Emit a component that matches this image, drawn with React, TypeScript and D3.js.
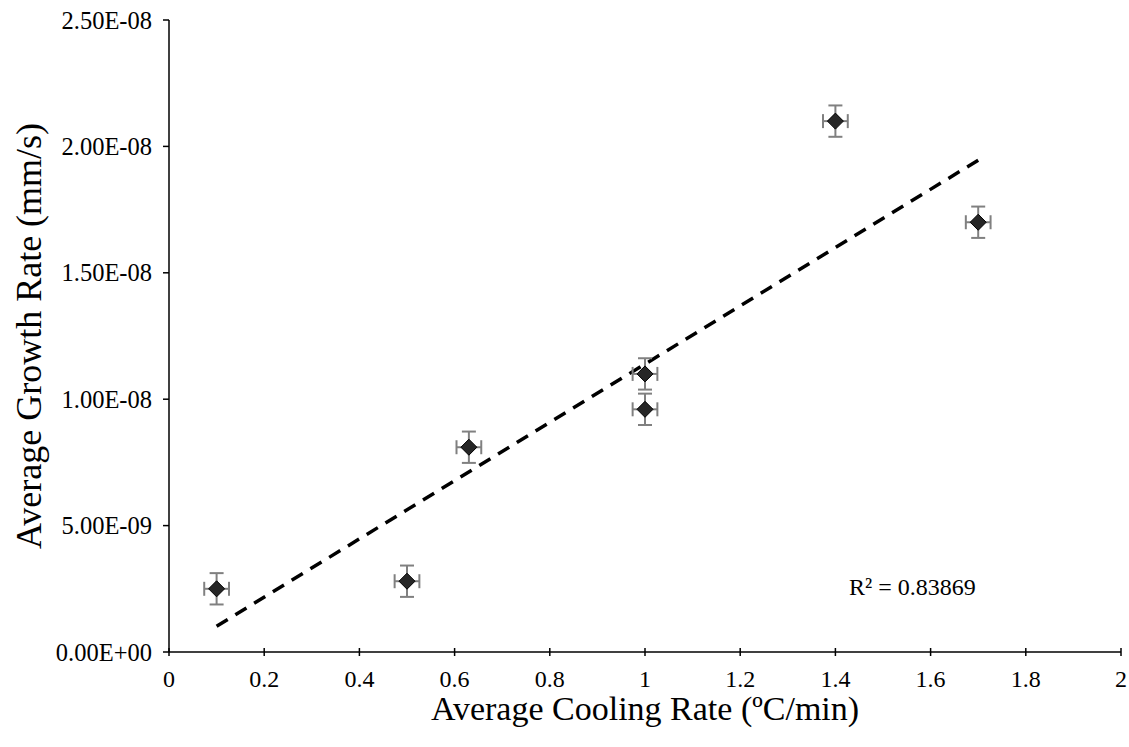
import React from "react";
import * as d3 from "d3";

const coolingRate = [0.1, 0.5, 0.63, 1.0, 1.0, 1.4, 1.7];
const growthRate = [2.5e-9, 2.8e-9, 8.1e-9, 1.1e-8, 9.6e-9, 2.1e-8, 1.7e-8];
const xErr = 0.026;
const yErr = 6.2e-10;
const xTicks = [0, 0.2, 0.4, 0.6, 0.8, 1, 1.2, 1.4, 1.6, 1.8, 2];
const yTicks = [0, 5e-9, 1e-8, 1.5e-8, 2e-8, 2.5e-8];
const yTickLabels = ["0.00E+00", "5.00E-09", "1.00E-08", "1.50E-08", "2.00E-08", "2.50E-08"];
const r2Label = "R² = 0.83869";

const W = 1129, H = 747;
const left = 169, right = 1121, top = 20, bottom = 652;
const font = "'Liberation Serif', 'Times New Roman', serif";

export default function App() {
  const x = d3.scaleLinear().domain([0, 2]).range([left, right]);
  const y = d3.scaleLinear().domain([0, 2.5e-8]).range([bottom, top]);

  const mx = d3.mean(coolingRate)!;
  const my = d3.mean(growthRate)!;
  let sxy = 0, sxx = 0;
  coolingRate.forEach((xv, i) => {
    sxy += (xv - mx) * (growthRate[i] - my);
    sxx += (xv - mx) ** 2;
  });
  const slope = sxy / sxx;
  const intercept = my - slope * mx;
  const x0 = d3.min(coolingRate)!, x1 = d3.max(coolingRate)!;
  const trend = d3.line<number>().x((v) => x(v)).y((v) => y(intercept + slope * v))([x0, x1]);

  const ds = 8;
  const ebColor = "#808080";
  const cap = 7;

  return (
    <svg width={W} height={H} style={{ position: "absolute", left: 0, top: 0, background: "#fff" }}>
      <line x1={left} x2={right} y1={bottom} y2={bottom} stroke="#000" strokeWidth={1.5} />
      <line x1={left} x2={left} y1={top} y2={bottom} stroke="#000" strokeWidth={1.5} />
      {xTicks.map((t) => (
        <g key={"xt" + t}>
          <line x1={x(t)} x2={x(t)} y1={bottom - 4} y2={bottom + 4} stroke="#000" strokeWidth={1.5} />
          <text x={x(t)} y={bottom + 35} textAnchor="middle" fontFamily={font} fontSize={24}>
            {String(t)}
          </text>
        </g>
      ))}
      {yTicks.map((t, i) => (
        <g key={"yt" + t}>
          <line x1={left - 6} x2={left} y1={y(t)} y2={y(t)} stroke="#000" strokeWidth={1.5} />
          <text x={left - 17} y={y(t)} dy="0.35em" textAnchor="end" fontFamily={font} fontSize={24.5}>
            {yTickLabels[i]}
          </text>
        </g>
      ))}
      <path d={trend || ""} fill="none" stroke="#000" strokeWidth={3.5} strokeDasharray="13 9" />
      {coolingRate.map((xv, i) => {
        const cx = x(xv), cy = y(growthRate[i]);
        const xl = x(xv - xErr), xr = x(xv + xErr);
        const yt = y(growthRate[i] + yErr), yb = y(growthRate[i] - yErr);
        return (
          <g key={"p" + i}>
            <g stroke={ebColor} strokeWidth={2}>
              <line x1={cx} x2={cx} y1={yt} y2={yb} />
              <line x1={cx - cap} x2={cx + cap} y1={yt} y2={yt} />
              <line x1={cx - cap} x2={cx + cap} y1={yb} y2={yb} />
              <line x1={xl} x2={xr} y1={cy} y2={cy} />
              <line x1={xl} x2={xl} y1={cy - cap} y2={cy + cap} />
              <line x1={xr} x2={xr} y1={cy - cap} y2={cy + cap} />
            </g>
            <path
              d={`M${cx},${cy - ds}L${cx + ds},${cy}L${cx},${cy + ds}L${cx - ds},${cy}Z`}
              fill="#262626"
              stroke="#000"
              strokeWidth={1}
            />
          </g>
        );
      })}
      <text x={849} y={595} fontFamily={font} fontSize={24}>{r2Label}</text>
      <text x={645} y={720} textAnchor="middle" fontFamily={font} fontSize={34}>
        Average Cooling Rate (ºC/min)
      </text>
      <text
        transform={`translate(41, ${(top + bottom) / 2}) rotate(-90)`}
        textAnchor="middle"
        fontFamily={font}
        fontSize={36}
      >
        Average Growth Rate (mm/s)
      </text>
    </svg>
  );
}
